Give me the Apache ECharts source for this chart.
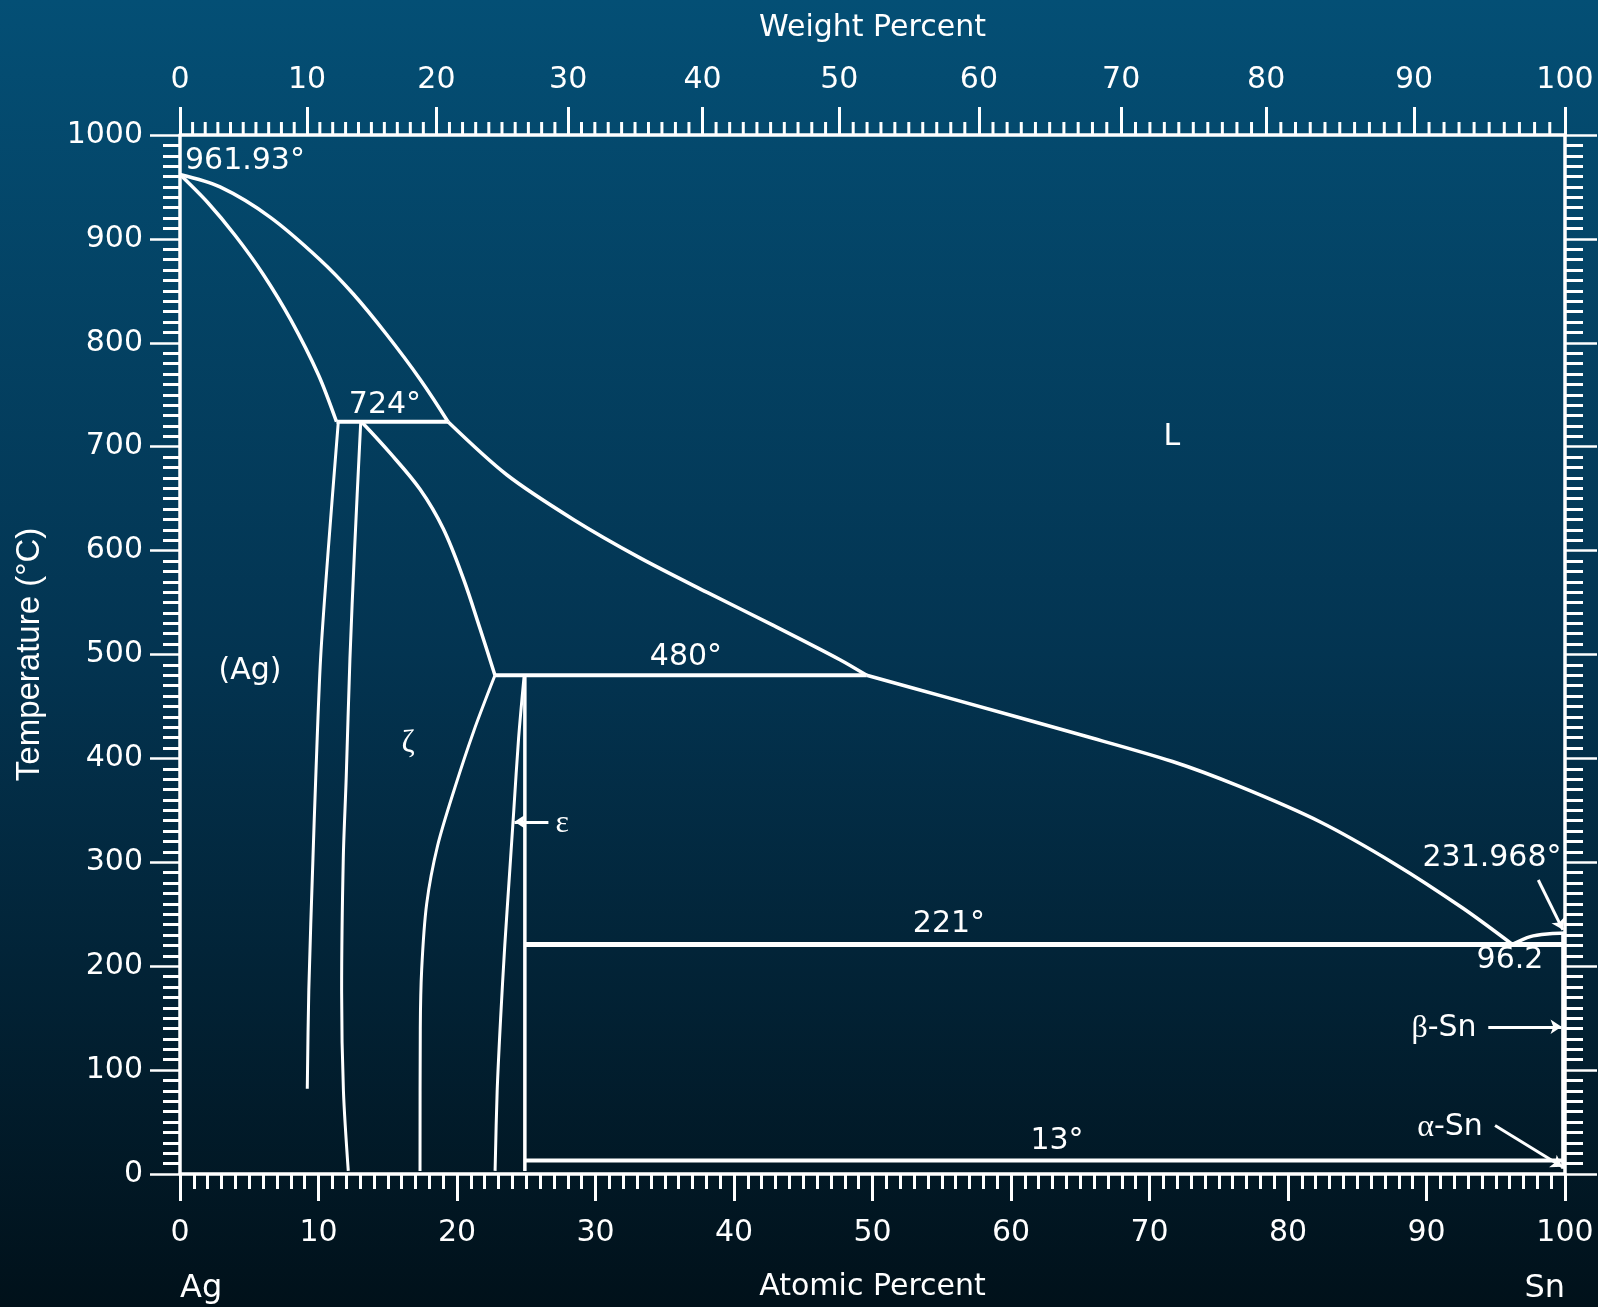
<!DOCTYPE html>
<html>
<head>
<meta charset="utf-8">
<title>Ag-Sn phase diagram</title>
<script src="https://cdn.jsdelivr.net/npm/echarts@6/dist/echarts.min.js"></script>
<style>
  html, body { margin: 0; padding: 0; background: #02263a; }
  #chart { width: 1598px; height: 1307px; }
</style>
</head>
<body>
<div id="chart"></div>
<script>
// atomic weights, used to place the weight percent scale on the atomic percent axis
const M_AG = 107.87
const M_SN = 118.71

// weight percent tick labels (top axis)
const wtMajor = [0, 10, 20, 30, 40, 50, 60, 70, 80, 90, 100]

// phase boundaries, [atomic % Sn, temperature °C]
const liquidusAg = [[0, 961.93], [2.89, 950], [6.5, 921], [10.11, 880], [12.51, 847], [14.92, 808], [17.33, 765], [19.35, 724]]
const liquidusZeta = [[19.35, 724], [23.59, 673], [28.4, 630], [33.21, 593], [38.03, 560], [42.84, 528], [47.65, 495], [49.58, 480]]
const liquidusEps = [[49.58, 480], [55.55, 458], [65.21, 422], [71.66, 397], [76.5, 373], [82.3, 339], [87.77, 298], [92.61, 256], [96.2, 221]]
const liquidusSn = [[96.2, 221], [97.5, 228.5], [98.9, 231.2], [100, 231.968]]
const solidusAg = [[0, 961.93], [2, 935], [4, 903], [6, 866], [8, 822], [10, 769], [11.3, 724]]
const solvusAg = [[11.43, 724], [10.7, 600], [10.15, 496], [9.8, 381], [9.6, 304], [9.3, 177], [9.19, 82]]
const zetaLeft = [[13.05, 724], [12.6, 600], [12.27, 496], [12.0, 381], [11.79, 304], [11.67, 176], [11.8, 80], [12.15, 3]]
const zetaUpper = [[13.1, 724], [15.16, 694], [17.33, 659], [19.01, 621], [20.46, 573], [21.66, 525], [22.74, 480]]
const zetaLower = [[22.74, 480], [21.2, 426], [19.85, 372], [18.6, 316], [17.81, 260], [17.45, 197], [17.35, 140], [17.33, 3]]
const epsLeft = [[24.85, 480], [24.45, 420], [24.1, 350], [23.8, 290], [23.45, 220], [23.15, 150], [22.9, 80], [22.75, 3]]
const epsRight = [[24.9, 480], [24.9, 3]]
const snSolvus = [[99.85, 231.968], [99.85, 5]]

// invariant lines
const peritectic724 = [[11.3, 724], [19.35, 724]]
const peritectic480 = [[22.74, 480], [49.58, 480]]
const eutectic221 = [[24.9, 221], [99.85, 221]]
const transition13 = [[24.9, 13], [99.85, 13]]

// arrows [from, to]
const arrows = [
  [[26.6, 339], [24.15, 339]],
  [[98.07, 283], [99.85, 235]],
  [[94.46, 141.7], [99.75, 141.7]],
  [[94.95, 46.7], [99.8, 7]],
]

// annotations
const noteText = ['961.93°', '724°', '480°', '221°', '13°', '231.968°', '96.2', '{g|β}-Sn', '{g|α}-Sn', 'L', '(Ag)', '{g|ζ}', '{g|ε}']
const noteAt = [0.36, 14.8, 36.53, 55.52, 63.32, 94.73, 96.03, 93.62, 91.7, 71.62, 5.05, 16.48, 27.6]
const noteTemp = [974.5, 740, 497, 240, 32, 304, 206, 140, 45, 709, 484, 414.6, 337]
const noteAlign = ['left', 'center', 'center', 'center', 'center', 'center', 'center', 'right', 'center', 'center', 'center', 'center', 'center']

const wtToAt = (w) => (w / M_SN) / (w / M_SN + (100 - w) / M_AG) * 100
const atToWt = (a) => (a * M_SN) / (a * M_SN + (100 - a) * M_AG) * 100

const wtMinor = []
for (let i = 1; i < 100; i++) if (i % 10 !== 0) wtMinor.push(i)

const white = '#ffffff'
const sans = 'DejaVu Sans'
const axisFont = { color: white, fontFamily: sans, fontSize: 30 }

const boundary = (data, width, smooth) => ({
  type: 'line',
  data: data,
  symbol: 'none',
  smooth: smooth,
  clip: false,
  silent: true,
  lineStyle: { color: white, width: width },
})

const chart = echarts.init(document.getElementById('chart'))

chart.setOption({
  animation: false,
  backgroundColor: new echarts.graphic.LinearGradient(0, 0, 0, 1, [
    { offset: 0, color: '#044f75' },
    { offset: 0.5, color: '#033451' },
    { offset: 1, color: '#01111a' },
  ]),
  grid: { left: 180, right: 33, top: 135, bottom: 130 },
  xAxis: [
    {
      type: 'value',
      position: 'bottom',
      min: 0,
      max: 100,
      interval: 10,
      axisLine: { onZero: false, lineStyle: { color: white, width: 3.5 } },
      axisTick: { show: true, length: 27, lineStyle: { color: white, width: 3 } },
      minorTick: { show: true, splitNumber: 10, length: 15, lineStyle: { color: white, width: 3 } },
      axisLabel: { ...axisFont, margin: 44 },
      splitLine: { show: false },
      name: 'Atomic Percent',
      nameLocation: 'middle',
      nameGap: 98,
      nameTextStyle: { ...axisFont },
    },
    {
      type: 'value',
      position: 'top',
      min: 0,
      max: 100,
      axisLine: { onZero: false, lineStyle: { color: white, width: 3.5 } },
      axisTick: { show: true, length: 28, customValues: wtMajor.map(wtToAt), lineStyle: { color: white, width: 3 } },
      axisLabel: {
        ...axisFont,
        margin: 40,
        customValues: wtMajor.map(wtToAt),
        formatter: (v) => String(Math.round(atToWt(v))),
      },
      splitLine: { show: false },
      name: 'Weight Percent',
      nameLocation: 'middle',
      nameGap: 92,
      nameTextStyle: { ...axisFont },
    },
  ],
  yAxis: [
    {
      type: 'value',
      position: 'left',
      min: 0,
      max: 1000,
      interval: 100,
      axisLine: { show: true, onZero: false, lineStyle: { color: white, width: 3.5 } },
      axisTick: { show: true, length: 30, lineStyle: { color: white, width: 2.5 } },
      minorTick: { show: true, splitNumber: 10, length: 17, lineStyle: { color: white, width: 3 } },
      axisLabel: { ...axisFont, margin: 37, formatter: (v) => String(v) },
      splitLine: { show: false },
      name: 'Temperature (°C)',
      nameLocation: 'middle',
      nameGap: 134,
      nameTextStyle: { color: white, fontFamily: 'Liberation Sans', fontSize: 33 },
    },
    {
      type: 'value',
      position: 'right',
      min: 0,
      max: 1000,
      interval: 100,
      axisLine: { show: true, onZero: false, lineStyle: { color: white, width: 3.5 } },
      axisTick: { show: true, length: 32, lineStyle: { color: white, width: 2.5 } },
      minorTick: { show: true, splitNumber: 10, length: 18, lineStyle: { color: white, width: 3 } },
      axisLabel: { show: false },
      splitLine: { show: false },
    },
  ],
  graphic: [
    { type: 'text', left: 180, top: 1273, style: { text: 'Ag', fill: white, font: '32px "DejaVu Sans"' } },
    { type: 'text', right: 33, top: 1273, style: { text: 'Sn', fill: white, font: '32px "DejaVu Sans"' } },
  ],
  series: [
    boundary(liquidusAg, 3.5, 0.3),
    boundary(liquidusZeta, 3.5, 0.3),
    boundary(liquidusEps, 3.5, 0.3),
    boundary(liquidusSn, 3.5, 0.3),
    boundary(solidusAg, 3.5, 0.3),
    boundary(solvusAg, 3, 0.3),
    boundary(zetaLeft, 3, 0.3),
    boundary(zetaUpper, 3.5, 0.35),
    boundary(zetaLower, 3, 0.3),
    boundary(epsLeft, 3, 0.3),
    boundary(epsRight, 3.5, false),
    boundary(snSolvus, 3.5, false),
    boundary(peritectic724, 4, false),
    boundary(peritectic480, 4, false),
    boundary(eutectic221, 5, false),
    boundary(transition13, 4, false),
    {
      // minor weight percent ticks on the top axis
      type: 'custom',
      silent: true,
      clip: false,
      data: wtMinor.map(wtToAt),
      renderItem: (params, api) => {
        const p = api.coord([api.value(0), 1000])
        return {
          type: 'line',
          shape: { x1: p[0], y1: p[1], x2: p[0], y2: p[1] - 13 },
          style: { stroke: white, lineWidth: 3 },
        }
      },
    },
    {
      type: 'lines',
      coordinateSystem: 'cartesian2d',
      silent: true,
      symbol: ['none', 'arrow'],
      symbolSize: 11,
      lineStyle: { color: white, width: 3, opacity: 1, curveness: 0 },
      data: arrows.map((c) => ({ coords: c })),
    },
    {
      type: 'scatter',
      silent: true,
      symbolSize: 1,
      clip: false,
      itemStyle: { color: 'rgba(0,0,0,0)', opacity: 1 },
      label: {
        show: true,
        position: 'inside',
        color: white,
        opacity: 1,
        fontFamily: sans,
        fontSize: 30,
        formatter: (p) => noteText[p.dataIndex],
        rich: { g: { color: white, fontFamily: 'Liberation Serif', fontSize: 32 } },
      },
      data: noteAt.map((x, i) => ({
        value: [x, noteTemp[i]],
        label: { align: noteAlign[i], verticalAlign: 'middle' },
      })),
    },
  ],
})
</script>
</body>
</html>
